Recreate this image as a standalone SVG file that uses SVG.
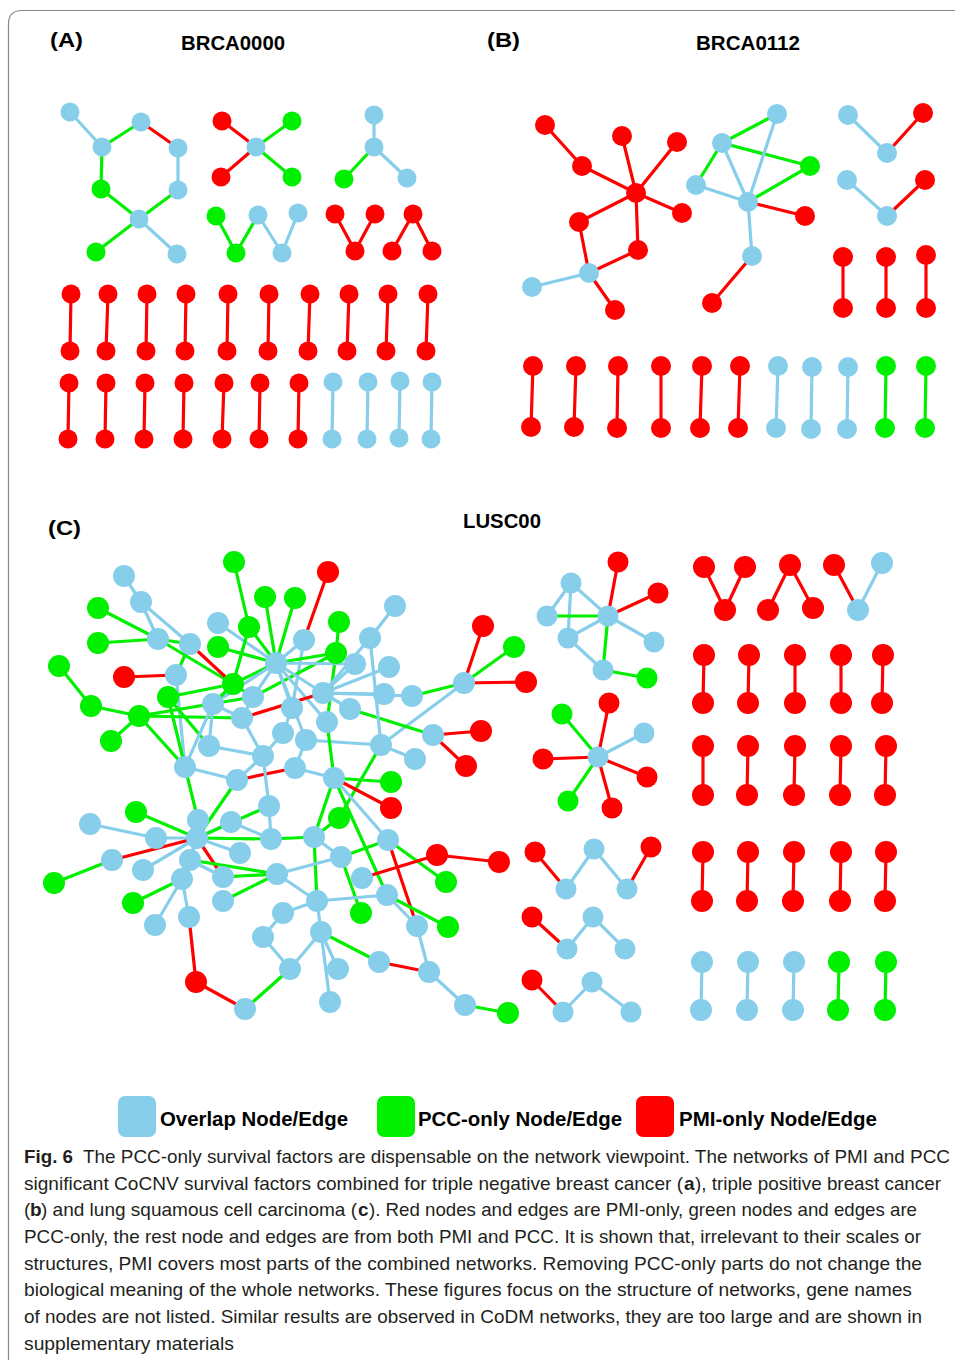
<svg xmlns="http://www.w3.org/2000/svg" width="955" height="1360" viewBox="0 0 955 1360">
<style>
.b{fill:#87CEEB}.g{fill:#00F000}.r{fill:#FF0000}
line{stroke-width:3.2;stroke-linecap:round}
.eb{stroke:#87CEEB}.eg{stroke:#00F000}.er{stroke:#FF0000}
.t{font-family:"Liberation Sans",Arial,sans-serif;font-weight:bold;fill:#000}
.cap{font-family:"Liberation Sans",Arial,sans-serif;font-size:19px;fill:#231f20}
.bo{font-weight:bold}
</style>
<rect width="955" height="1360" fill="#fff"/>
<path d="M8.5 1360 V24 Q8.5 10.5 22 10.5 H955" fill="none" stroke="#888" stroke-width="1.2"/>
<g id="labels">
<text class="t" x="50" y="47" font-size="20" textLength="33" lengthAdjust="spacingAndGlyphs">(A)</text>
<text class="t" x="181" y="50" font-size="20" textLength="104" lengthAdjust="spacingAndGlyphs">BRCA0000</text>
<text class="t" x="487" y="47" font-size="20" textLength="33" lengthAdjust="spacingAndGlyphs">(B)</text>
<text class="t" x="696" y="50" font-size="20" textLength="104" lengthAdjust="spacingAndGlyphs">BRCA0112</text>
<text class="t" x="48" y="535" font-size="20" textLength="33" lengthAdjust="spacingAndGlyphs">(C)</text>
<text class="t" x="463" y="528" font-size="20" textLength="78" lengthAdjust="spacingAndGlyphs">LUSC00</text>
</g>
<g id="connectors">
<!-- Panel A -->
<line class="eb" x1="70" y1="112" x2="102" y2="147"/><line class="eg" x1="102" y1="147" x2="141" y2="122"/><line class="er" x1="141" y1="122" x2="178" y2="148"/><line class="eb" x1="178" y1="148" x2="178" y2="190"/><line class="eg" x1="102" y1="147" x2="101" y2="189"/><line class="eg" x1="101" y1="189" x2="139" y2="219"/><line class="eg" x1="178" y1="190" x2="139" y2="219"/><line class="eg" x1="139" y1="219" x2="96" y2="252"/><line class="eb" x1="139" y1="219" x2="177" y2="254"/>
<line class="er" x1="222" y1="121" x2="256" y2="147"/><line class="eg" x1="292" y1="121" x2="256" y2="147"/><line class="er" x1="221" y1="177" x2="256" y2="147"/><line class="eg" x1="292" y1="177" x2="256" y2="147"/>
<line class="eb" x1="374" y1="115" x2="374" y2="147"/><line class="eg" x1="374" y1="147" x2="344" y2="179"/><line class="eb" x1="374" y1="147" x2="407" y2="178"/>
<line class="eg" x1="216" y1="216" x2="236" y2="253"/><line class="eg" x1="236" y1="253" x2="258" y2="215"/><line class="eb" x1="258" y1="215" x2="282" y2="253"/><line class="eb" x1="282" y1="253" x2="298" y2="213"/>
<line class="er" x1="335" y1="214" x2="355" y2="251"/><line class="er" x1="355" y1="251" x2="375" y2="214"/><line class="er" x1="392" y1="251" x2="413" y2="214"/><line class="er" x1="413" y1="214" x2="432" y2="251"/>
<line class="er" x1="71" y1="294" x2="70" y2="351"/><line class="er" x1="108" y1="294" x2="106" y2="351"/><line class="er" x1="147" y1="294" x2="146" y2="351"/><line class="er" x1="186" y1="294" x2="185" y2="351"/><line class="er" x1="228" y1="294" x2="227" y2="351"/><line class="er" x1="269" y1="294" x2="268" y2="351"/><line class="er" x1="310" y1="294" x2="308" y2="351"/><line class="er" x1="349" y1="294" x2="347" y2="351"/><line class="er" x1="388" y1="294" x2="386" y2="351"/><line class="er" x1="428" y1="294" x2="426" y2="351"/>
<line class="er" x1="69" y1="383" x2="68" y2="439"/><line class="er" x1="106" y1="383" x2="105" y2="439"/><line class="er" x1="145" y1="383" x2="144" y2="439"/><line class="er" x1="184" y1="383" x2="183" y2="439"/><line class="er" x1="224" y1="383" x2="222" y2="439"/><line class="er" x1="260" y1="383" x2="259" y2="439"/><line class="er" x1="299" y1="383" x2="298" y2="439"/><line class="eb" x1="333" y1="382" x2="332" y2="439"/><line class="eb" x1="368" y1="382" x2="367" y2="439"/><line class="eb" x1="400" y1="381" x2="399" y2="438"/><line class="eb" x1="432" y1="382" x2="431" y2="439"/>
<!-- Panel B -->
<line class="er" x1="545" y1="125" x2="582" y2="166"/><line class="er" x1="582" y1="166" x2="636" y2="193"/><line class="er" x1="622" y1="136" x2="636" y2="193"/><line class="er" x1="677" y1="142" x2="636" y2="193"/><line class="er" x1="682" y1="213" x2="636" y2="193"/><line class="er" x1="579" y1="222" x2="636" y2="193"/><line class="er" x1="638" y1="250" x2="636" y2="193"/><line class="er" x1="579" y1="222" x2="589" y2="273"/><line class="er" x1="638" y1="250" x2="589" y2="273"/><line class="er" x1="589" y1="273" x2="615" y2="310"/><line class="eb" x1="532" y1="287" x2="589" y2="273"/>
<line class="eg" x1="722" y1="143" x2="777" y2="114"/><line class="eg" x1="722" y1="143" x2="810" y2="166"/><line class="eg" x1="722" y1="143" x2="696" y2="185"/><line class="eb" x1="722" y1="143" x2="748" y2="202"/><line class="eb" x1="777" y1="114" x2="748" y2="202"/><line class="eb" x1="696" y1="185" x2="748" y2="202"/><line class="eg" x1="748" y1="202" x2="810" y2="166"/><line class="er" x1="748" y1="202" x2="805" y2="216"/><line class="eb" x1="748" y1="202" x2="752" y2="256"/><line class="er" x1="752" y1="256" x2="712" y2="303"/>
<line class="eb" x1="848" y1="115" x2="887" y2="153"/><line class="er" x1="887" y1="153" x2="923" y2="113"/><line class="eb" x1="847" y1="180" x2="887" y2="216"/><line class="er" x1="887" y1="216" x2="925" y2="180"/>
<line class="er" x1="843" y1="257" x2="843" y2="308"/><line class="er" x1="886" y1="257" x2="886" y2="308"/><line class="er" x1="926" y1="255" x2="926" y2="308"/>
<line class="er" x1="533" y1="366" x2="531" y2="427"/><line class="er" x1="576" y1="366" x2="574" y2="427"/><line class="er" x1="618" y1="366" x2="617" y2="428"/><line class="er" x1="661" y1="366" x2="661" y2="428"/><line class="er" x1="702" y1="366" x2="700" y2="428"/><line class="er" x1="740" y1="366" x2="738" y2="428"/><line class="eb" x1="778" y1="366" x2="776" y2="428"/><line class="eb" x1="812" y1="367" x2="811" y2="429"/><line class="eb" x1="848" y1="367" x2="847" y2="429"/><line class="eg" x1="886" y1="366" x2="885" y2="428"/><line class="eg" x1="926" y1="366" x2="925" y2="428"/>
<!-- Panel C big network -->
<g style="stroke-width:3.4">
<line class="eb" x1="124" y1="576" x2="141" y2="602"/><line class="eb" x1="141" y1="602" x2="158" y2="639"/><line class="eb" x1="141" y1="602" x2="190" y2="644"/><line class="eb" x1="218" y1="623" x2="276" y2="663"/>
<line class="eg" x1="98" y1="608" x2="158" y2="639"/><line class="eg" x1="158" y1="639" x2="233" y2="684"/><line class="eg" x1="98" y1="643" x2="158" y2="639"/><line class="eg" x1="158" y1="639" x2="190" y2="644"/>
<line class="eg" x1="234" y1="562" x2="249" y2="627"/><line class="eg" x1="249" y1="627" x2="276" y2="663"/><line class="eg" x1="249" y1="627" x2="233" y2="684"/><line class="eg" x1="265" y1="597" x2="276" y2="663"/><line class="eg" x1="295" y1="598" x2="276" y2="663"/><line class="eg" x1="218" y1="647" x2="276" y2="663"/><line class="eg" x1="233" y1="684" x2="276" y2="663"/>
<line class="er" x1="190" y1="644" x2="233" y2="684"/><line class="er" x1="328" y1="572" x2="304" y2="640"/><line class="eb" x1="304" y1="640" x2="276" y2="663"/><line class="eb" x1="304" y1="640" x2="292" y2="708"/>
<line class="eg" x1="339" y1="622" x2="336" y2="653"/><line class="eg" x1="336" y1="653" x2="276" y2="663"/><line class="eg" x1="336" y1="653" x2="327" y2="722"/><line class="eg" x1="336" y1="653" x2="253" y2="697"/>
<line class="eb" x1="395" y1="606" x2="370" y2="638"/><line class="eb" x1="370" y1="638" x2="323" y2="693"/><line class="eb" x1="355" y1="664" x2="323" y2="693"/><line class="eb" x1="389" y1="667" x2="323" y2="693"/><line class="eb" x1="384" y1="694" x2="323" y2="693"/><line class="eb" x1="276" y1="663" x2="323" y2="693"/><line class="eb" x1="276" y1="663" x2="355" y2="664"/><line class="eb" x1="276" y1="663" x2="253" y2="697"/><line class="eb" x1="276" y1="663" x2="292" y2="708"/><line class="eb" x1="276" y1="663" x2="327" y2="722"/><line class="eb" x1="276" y1="663" x2="306" y2="740"/><line class="eb" x1="276" y1="663" x2="213" y2="704"/>
<line class="er" x1="124" y1="677" x2="176" y2="675"/><line class="eg" x1="176" y1="675" x2="190" y2="644"/><line class="eb" x1="176" y1="675" x2="185" y2="767"/><line class="eg" x1="168" y1="697" x2="233" y2="684"/><line class="eg" x1="168" y1="697" x2="185" y2="767"/><line class="eg" x1="168" y1="697" x2="209" y2="746"/>
<line class="eg" x1="59" y1="666" x2="91" y2="706"/><line class="eg" x1="91" y1="706" x2="139" y2="716"/><line class="eg" x1="111" y1="741" x2="139" y2="716"/><line class="eg" x1="139" y1="716" x2="253" y2="697"/><line class="eg" x1="139" y1="716" x2="242" y2="718"/><line class="eg" x1="139" y1="716" x2="185" y2="767"/>
<line class="eg" x1="233" y1="684" x2="253" y2="697"/><line class="eg" x1="233" y1="684" x2="213" y2="704"/><line class="eb" x1="213" y1="704" x2="242" y2="718"/><line class="eb" x1="213" y1="704" x2="185" y2="767"/><line class="eb" x1="253" y1="697" x2="242" y2="718"/><line class="er" x1="242" y1="718" x2="323" y2="693"/>
<line class="er" x1="483" y1="626" x2="464" y2="683"/><line class="eg" x1="514" y1="647" x2="464" y2="683"/><line class="er" x1="526" y1="682" x2="464" y2="683"/><line class="eg" x1="464" y1="683" x2="412" y2="696"/><line class="eb" x1="464" y1="683" x2="381" y2="745"/><line class="eb" x1="412" y1="696" x2="323" y2="693"/>
<line class="eg" x1="350" y1="709" x2="433" y2="735"/><line class="eb" x1="350" y1="709" x2="323" y2="693"/><line class="er" x1="433" y1="735" x2="481" y2="731"/><line class="er" x1="433" y1="735" x2="466" y2="766"/><line class="eb" x1="381" y1="745" x2="415" y2="759"/><line class="eb" x1="381" y1="745" x2="370" y2="638"/><line class="eb" x1="306" y1="740" x2="381" y2="745"/><line class="eg" x1="381" y1="745" x2="339" y2="818"/>
<line class="eb" x1="283" y1="733" x2="263" y2="756"/><line class="eb" x1="283" y1="733" x2="292" y2="708"/><line class="eb" x1="306" y1="740" x2="295" y2="768"/><line class="eb" x1="242" y1="718" x2="263" y2="756"/><line class="eb" x1="209" y1="746" x2="263" y2="756"/><line class="eb" x1="209" y1="746" x2="213" y2="704"/><line class="eb" x1="185" y1="767" x2="237" y2="780"/><line class="er" x1="237" y1="780" x2="295" y2="768"/><line class="eb" x1="263" y1="756" x2="237" y2="780"/><line class="eb" x1="263" y1="756" x2="269" y2="806"/><line class="eg" x1="327" y1="722" x2="334" y2="778"/><line class="eb" x1="295" y1="768" x2="334" y2="778"/>
<line class="eg" x1="334" y1="778" x2="391" y2="782"/><line class="er" x1="334" y1="778" x2="391" y2="808"/><line class="eg" x1="334" y1="778" x2="314" y2="837"/><line class="eb" x1="334" y1="778" x2="388" y2="840"/><line class="eg" x1="334" y1="778" x2="387" y2="895"/>
<line class="eb" x1="90" y1="824" x2="156" y2="838"/><line class="eg" x1="136" y1="812" x2="197" y2="838"/><line class="eb" x1="156" y1="838" x2="197" y2="838"/><line class="er" x1="112" y1="860" x2="197" y2="838"/><line class="eg" x1="54" y1="883" x2="112" y2="860"/><line class="eb" x1="143" y1="870" x2="197" y2="838"/><line class="eg" x1="133" y1="903" x2="182" y2="879"/><line class="eb" x1="155" y1="925" x2="182" y2="879"/><line class="eb" x1="182" y1="879" x2="197" y2="838"/><line class="eb" x1="189" y1="917" x2="182" y2="879"/>
<line class="eg" x1="185" y1="767" x2="198" y2="820"/><line class="eb" x1="198" y1="820" x2="197" y2="838"/><line class="eb" x1="231" y1="822" x2="197" y2="838"/><line class="eb" x1="240" y1="853" x2="197" y2="838"/><line class="eb" x1="190" y1="860" x2="197" y2="838"/><line class="eg" x1="197" y1="838" x2="237" y2="780"/><line class="eg" x1="197" y1="838" x2="269" y2="806"/><line class="eg" x1="197" y1="838" x2="271" y2="839"/><line class="er" x1="197" y1="838" x2="223" y2="877"/><line class="eg" x1="190" y1="860" x2="277" y2="874"/><line class="eg" x1="223" y1="877" x2="277" y2="874"/><line class="eg" x1="223" y1="901" x2="277" y2="874"/><line class="eb" x1="190" y1="860" x2="223" y2="877"/><line class="eb" x1="231" y1="822" x2="271" y2="839"/>
<line class="eb" x1="269" y1="806" x2="271" y2="839"/><line class="eg" x1="271" y1="839" x2="314" y2="837"/><line class="eg" x1="314" y1="837" x2="339" y2="818"/><line class="eb" x1="314" y1="837" x2="341" y2="857"/><line class="eg" x1="314" y1="837" x2="317" y2="901"/><line class="eb" x1="277" y1="874" x2="341" y2="857"/><line class="eb" x1="277" y1="874" x2="317" y2="901"/><line class="eg" x1="341" y1="857" x2="388" y2="840"/><line class="eg" x1="341" y1="857" x2="361" y2="913"/>
<line class="er" x1="388" y1="840" x2="417" y2="926"/><line class="eg" x1="388" y1="840" x2="446" y2="882"/><line class="er" x1="437" y1="855" x2="499" y2="862"/><line class="er" x1="437" y1="855" x2="362" y2="878"/>
<line class="eb" x1="317" y1="901" x2="387" y2="895"/><line class="eb" x1="317" y1="901" x2="321" y2="932"/><line class="eg" x1="387" y1="895" x2="448" y2="927"/><line class="eb" x1="387" y1="895" x2="417" y2="926"/><line class="eb" x1="417" y1="926" x2="429" y2="972"/><line class="er" x1="379" y1="962" x2="429" y2="972"/><line class="eb" x1="429" y1="972" x2="465" y2="1005"/><line class="eg" x1="465" y1="1005" x2="508" y2="1013"/>
<line class="eb" x1="321" y1="932" x2="290" y2="969"/><line class="eb" x1="321" y1="932" x2="338" y2="969"/><line class="eb" x1="321" y1="932" x2="330" y2="1002"/><line class="eg" x1="321" y1="932" x2="379" y2="962"/><line class="eb" x1="283" y1="913" x2="317" y2="901"/><line class="eb" x1="263" y1="937" x2="290" y2="969"/><line class="eb" x1="263" y1="937" x2="283" y2="913"/>
<line class="er" x1="189" y1="917" x2="196" y2="982"/><line class="er" x1="196" y1="982" x2="245" y2="1009"/><line class="eg" x1="245" y1="1009" x2="290" y2="969"/>
</g>
<!-- Panel C middle components -->
<g style="stroke-width:3.2">
<line class="eb" x1="571" y1="583" x2="547" y2="616"/><line class="eb" x1="571" y1="583" x2="568" y2="638"/><line class="eb" x1="571" y1="583" x2="608" y2="616"/><line class="eg" x1="547" y1="616" x2="608" y2="616"/><line class="eb" x1="568" y1="638" x2="608" y2="616"/><line class="eb" x1="568" y1="638" x2="603" y2="670"/><line class="eg" x1="608" y1="616" x2="603" y2="670"/><line class="er" x1="608" y1="616" x2="618" y2="562"/><line class="er" x1="608" y1="616" x2="658" y2="593"/><line class="eb" x1="608" y1="616" x2="654" y2="642"/><line class="eg" x1="603" y1="670" x2="647" y2="678"/>
<line class="eg" x1="598" y1="757" x2="562" y2="714"/><line class="er" x1="598" y1="757" x2="609" y2="703"/><line class="eb" x1="598" y1="757" x2="644" y2="733"/><line class="er" x1="598" y1="757" x2="543" y2="759"/><line class="er" x1="598" y1="757" x2="647" y2="777"/><line class="eg" x1="598" y1="757" x2="568" y2="801"/><line class="er" x1="598" y1="757" x2="612" y2="808"/>
<line class="er" x1="535" y1="852" x2="566" y2="889"/><line class="eb" x1="566" y1="889" x2="594" y2="849"/><line class="eb" x1="594" y1="849" x2="627" y2="889"/><line class="er" x1="627" y1="889" x2="651" y2="847"/>
<line class="er" x1="532" y1="917" x2="567" y2="949"/><line class="eb" x1="567" y1="949" x2="593" y2="917"/><line class="eb" x1="593" y1="917" x2="625" y2="949"/>
<line class="er" x1="532" y1="980" x2="563" y2="1012"/><line class="eb" x1="563" y1="1012" x2="592" y2="982"/><line class="eb" x1="592" y1="982" x2="631" y2="1012"/>
<!-- Panel C right -->
<line class="er" x1="704" y1="567" x2="725" y2="610"/><line class="er" x1="725" y1="610" x2="745" y2="567"/><line class="er" x1="768" y1="610" x2="790" y2="565"/><line class="er" x1="790" y1="565" x2="813" y2="608"/><line class="er" x1="834" y1="565" x2="858" y2="610"/><line class="eb" x1="858" y1="610" x2="882" y2="563"/>
<line class="er" x1="704" y1="655" x2="703" y2="703"/><line class="er" x1="749" y1="655" x2="748" y2="703"/><line class="er" x1="795" y1="655" x2="795" y2="703"/><line class="er" x1="841" y1="655" x2="841" y2="703"/><line class="er" x1="883" y1="655" x2="882" y2="703"/>
<line class="er" x1="703" y1="746" x2="703" y2="795"/><line class="er" x1="748" y1="746" x2="747" y2="795"/><line class="er" x1="795" y1="746" x2="794" y2="795"/><line class="er" x1="841" y1="746" x2="840" y2="795"/><line class="er" x1="886" y1="746" x2="885" y2="795"/>
<line class="er" x1="703" y1="852" x2="702" y2="901"/><line class="er" x1="748" y1="852" x2="747" y2="901"/><line class="er" x1="794" y1="852" x2="793" y2="901"/><line class="er" x1="841" y1="852" x2="840" y2="901"/><line class="er" x1="886" y1="852" x2="885" y2="901"/>
<line class="eb" x1="702" y1="962" x2="701" y2="1010"/><line class="eb" x1="748" y1="962" x2="747" y2="1010"/><line class="eb" x1="794" y1="962" x2="793" y2="1010"/><line class="eg" x1="839" y1="962" x2="838" y2="1010"/><line class="eg" x1="886" y1="962" x2="885" y2="1010"/>
</g>
</g>
<g id="nodesA">
<g id="a1"><circle class="b" cx="70" cy="112" r="9.5"/></g><g id="a2"><circle class="b" cx="102" cy="147" r="9.5"/></g><g id="a3"><circle class="b" cx="141" cy="122" r="9.5"/></g><g id="a4"><circle class="b" cx="178" cy="148" r="9.5"/></g><g id="a5"><circle class="b" cx="178" cy="190" r="9.5"/></g><g id="a6"><circle class="g" cx="101" cy="189" r="9.5"/></g><g id="a7"><circle class="b" cx="139" cy="219" r="9.5"/></g><g id="a8"><circle class="g" cx="96" cy="252" r="9.5"/></g><g id="a9"><circle class="b" cx="177" cy="254" r="9.5"/></g>
<g id="a10"><circle class="b" cx="256" cy="147" r="9.5"/></g><g id="a11"><circle class="r" cx="222" cy="121" r="9.5"/></g><g id="a12"><circle class="g" cx="292" cy="121" r="9.5"/></g><g id="a13"><circle class="r" cx="221" cy="177" r="9.5"/></g><g id="a14"><circle class="g" cx="292" cy="177" r="9.5"/></g>
<g id="a15"><circle class="b" cx="374" cy="115" r="9.5"/></g><g id="a16"><circle class="b" cx="374" cy="147" r="9.5"/></g><g id="a17"><circle class="g" cx="344" cy="179" r="9.5"/></g><g id="a18"><circle class="b" cx="407" cy="178" r="9.5"/></g>
<g id="a19"><circle class="g" cx="216" cy="216" r="9.5"/></g><g id="a20"><circle class="g" cx="236" cy="253" r="9.5"/></g><g id="a21"><circle class="b" cx="258" cy="215" r="9.5"/></g><g id="a22"><circle class="b" cx="282" cy="253" r="9.5"/></g><g id="a23"><circle class="b" cx="298" cy="213" r="9.5"/></g>
<g id="a24"><circle class="r" cx="335" cy="214" r="9.5"/></g><g id="a25"><circle class="r" cx="355" cy="251" r="9.5"/></g><g id="a26"><circle class="r" cx="375" cy="214" r="9.5"/></g><g id="a27"><circle class="r" cx="413" cy="214" r="9.5"/></g><g id="a28"><circle class="r" cx="392" cy="251" r="9.5"/></g><g id="a29"><circle class="r" cx="432" cy="251" r="9.5"/></g>
<g id="a30"><circle class="r" cx="71" cy="294" r="9.5"/></g><g id="a31"><circle class="r" cx="70" cy="351" r="9.5"/></g><g id="a32"><circle class="r" cx="108" cy="294" r="9.5"/></g><g id="a33"><circle class="r" cx="106" cy="351" r="9.5"/></g><g id="a34"><circle class="r" cx="147" cy="294" r="9.5"/></g><g id="a35"><circle class="r" cx="146" cy="351" r="9.5"/></g><g id="a36"><circle class="r" cx="186" cy="294" r="9.5"/></g><g id="a37"><circle class="r" cx="185" cy="351" r="9.5"/></g><g id="a38"><circle class="r" cx="228" cy="294" r="9.5"/></g><g id="a39"><circle class="r" cx="227" cy="351" r="9.5"/></g><g id="a40"><circle class="r" cx="269" cy="294" r="9.5"/></g><g id="a41"><circle class="r" cx="268" cy="351" r="9.5"/></g><g id="a42"><circle class="r" cx="310" cy="294" r="9.5"/></g><g id="a43"><circle class="r" cx="308" cy="351" r="9.5"/></g><g id="a44"><circle class="r" cx="349" cy="294" r="9.5"/></g><g id="a45"><circle class="r" cx="347" cy="351" r="9.5"/></g><g id="a46"><circle class="r" cx="388" cy="294" r="9.5"/></g><g id="a47"><circle class="r" cx="386" cy="351" r="9.5"/></g><g id="a48"><circle class="r" cx="428" cy="294" r="9.5"/></g><g id="a49"><circle class="r" cx="426" cy="351" r="9.5"/></g>
<g id="a50"><circle class="r" cx="69" cy="383" r="9.5"/></g><g id="a51"><circle class="r" cx="68" cy="439" r="9.5"/></g><g id="a52"><circle class="r" cx="106" cy="383" r="9.5"/></g><g id="a53"><circle class="r" cx="105" cy="439" r="9.5"/></g><g id="a54"><circle class="r" cx="145" cy="383" r="9.5"/></g><g id="a55"><circle class="r" cx="144" cy="439" r="9.5"/></g><g id="a56"><circle class="r" cx="184" cy="383" r="9.5"/></g><g id="a57"><circle class="r" cx="183" cy="439" r="9.5"/></g><g id="a58"><circle class="r" cx="224" cy="383" r="9.5"/></g><g id="a59"><circle class="r" cx="222" cy="439" r="9.5"/></g><g id="a60"><circle class="r" cx="260" cy="383" r="9.5"/></g><g id="a61"><circle class="r" cx="259" cy="439" r="9.5"/></g><g id="a62"><circle class="r" cx="299" cy="383" r="9.5"/></g><g id="a63"><circle class="r" cx="298" cy="439" r="9.5"/></g>
<g id="a64"><circle class="b" cx="333" cy="382" r="9.5"/></g><g id="a65"><circle class="b" cx="332" cy="439" r="9.5"/></g><g id="a66"><circle class="b" cx="368" cy="382" r="9.5"/></g><g id="a67"><circle class="b" cx="367" cy="439" r="9.5"/></g><g id="a68"><circle class="b" cx="400" cy="381" r="9.5"/></g><g id="a69"><circle class="b" cx="399" cy="438" r="9.5"/></g><g id="a70"><circle class="b" cx="432" cy="382" r="9.5"/></g><g id="a71"><circle class="b" cx="431" cy="439" r="9.5"/></g>
</g>
<g id="nodesB">
<g id="b1"><circle class="r" cx="545" cy="125" r="10"/></g><g id="b2"><circle class="r" cx="582" cy="166" r="10"/></g><g id="b3"><circle class="r" cx="622" cy="136" r="10"/></g><g id="b4"><circle class="r" cx="677" cy="142" r="10"/></g><g id="b5"><circle class="r" cx="636" cy="193" r="10"/></g><g id="b6"><circle class="r" cx="682" cy="213" r="10"/></g><g id="b7"><circle class="r" cx="579" cy="222" r="10"/></g><g id="b8"><circle class="r" cx="638" cy="250" r="10"/></g><g id="b9"><circle class="b" cx="589" cy="273" r="10"/></g><g id="b10"><circle class="b" cx="532" cy="287" r="10"/></g><g id="b11"><circle class="r" cx="615" cy="310" r="10"/></g>
<g id="b12"><circle class="b" cx="777" cy="114" r="10"/></g><g id="b13"><circle class="b" cx="722" cy="143" r="10"/></g><g id="b14"><circle class="g" cx="810" cy="166" r="10"/></g><g id="b15"><circle class="b" cx="696" cy="185" r="10"/></g><g id="b16"><circle class="b" cx="748" cy="202" r="10"/></g><g id="b17"><circle class="r" cx="805" cy="216" r="10"/></g><g id="b18"><circle class="b" cx="752" cy="256" r="10"/></g><g id="b19"><circle class="r" cx="712" cy="303" r="10"/></g>
<g id="b20"><circle class="b" cx="848" cy="115" r="10"/></g><g id="b21"><circle class="b" cx="887" cy="153" r="10"/></g><g id="b22"><circle class="r" cx="923" cy="113" r="10"/></g><g id="b23"><circle class="b" cx="847" cy="180" r="10"/></g><g id="b24"><circle class="b" cx="887" cy="216" r="10"/></g><g id="b25"><circle class="r" cx="925" cy="180" r="10"/></g>
<g id="b26"><circle class="r" cx="843" cy="257" r="10"/></g><g id="b27"><circle class="r" cx="843" cy="308" r="10"/></g><g id="b28"><circle class="r" cx="886" cy="257" r="10"/></g><g id="b29"><circle class="r" cx="886" cy="308" r="10"/></g><g id="b30"><circle class="r" cx="926" cy="255" r="10"/></g><g id="b31"><circle class="r" cx="926" cy="308" r="10"/></g>
<g id="b32"><circle class="r" cx="533" cy="366" r="10"/></g><g id="b33"><circle class="r" cx="531" cy="427" r="10"/></g><g id="b34"><circle class="r" cx="576" cy="366" r="10"/></g><g id="b35"><circle class="r" cx="574" cy="427" r="10"/></g><g id="b36"><circle class="r" cx="618" cy="366" r="10"/></g><g id="b37"><circle class="r" cx="617" cy="428" r="10"/></g><g id="b38"><circle class="r" cx="661" cy="366" r="10"/></g><g id="b39"><circle class="r" cx="661" cy="428" r="10"/></g><g id="b40"><circle class="r" cx="702" cy="366" r="10"/></g><g id="b41"><circle class="r" cx="700" cy="428" r="10"/></g><g id="b42"><circle class="r" cx="740" cy="366" r="10"/></g><g id="b43"><circle class="r" cx="738" cy="428" r="10"/></g>
<g id="b44"><circle class="b" cx="778" cy="366" r="10"/></g><g id="b45"><circle class="b" cx="776" cy="428" r="10"/></g><g id="b46"><circle class="b" cx="812" cy="367" r="10"/></g><g id="b47"><circle class="b" cx="811" cy="429" r="10"/></g><g id="b48"><circle class="b" cx="848" cy="367" r="10"/></g><g id="b49"><circle class="b" cx="847" cy="429" r="10"/></g><g id="b50"><circle class="g" cx="886" cy="366" r="10"/></g><g id="b51"><circle class="g" cx="885" cy="428" r="10"/></g><g id="b52"><circle class="g" cx="926" cy="366" r="10"/></g><g id="b53"><circle class="g" cx="925" cy="428" r="10"/></g>
</g>
<g id="nodesC">
<g id="c1"><circle class="b" cx="124" cy="576" r="11"/></g><g id="c2"><circle class="b" cx="141" cy="602" r="11"/></g><g id="c3"><circle class="g" cx="98" cy="608" r="11"/></g><g id="c4"><circle class="g" cx="234" cy="562" r="11"/></g><g id="c5"><circle class="g" cx="265" cy="597" r="11"/></g><g id="c6"><circle class="g" cx="295" cy="598" r="11"/></g><g id="c7"><circle class="r" cx="328" cy="572" r="11"/></g><g id="c8"><circle class="b" cx="395" cy="606" r="11"/></g><g id="c9"><circle class="b" cx="218" cy="623" r="11"/></g><g id="c10"><circle class="g" cx="249" cy="627" r="11"/></g>
<g id="c11"><circle class="g" cx="339" cy="622" r="11"/></g><g id="c12"><circle class="g" cx="98" cy="643" r="11"/></g><g id="c13"><circle class="b" cx="158" cy="639" r="11"/></g><g id="c14"><circle class="b" cx="190" cy="644" r="11"/></g><g id="c15"><circle class="g" cx="218" cy="647" r="11"/></g><g id="c16"><circle class="b" cx="304" cy="640" r="11"/></g><g id="c17"><circle class="b" cx="370" cy="638" r="11"/></g><g id="c18"><circle class="g" cx="336" cy="653" r="11"/></g><g id="c19"><circle class="b" cx="276" cy="663" r="11"/></g><g id="c20"><circle class="b" cx="355" cy="664" r="11"/></g>
<g id="c21"><circle class="b" cx="389" cy="667" r="11"/></g><g id="c22"><circle class="g" cx="59" cy="666" r="11"/></g><g id="c23"><circle class="r" cx="124" cy="677" r="11"/></g><g id="c24"><circle class="b" cx="176" cy="675" r="11"/></g><g id="c25"><circle class="g" cx="233" cy="684" r="11"/></g><g id="c26"><circle class="r" cx="483" cy="626" r="11"/></g><g id="c27"><circle class="g" cx="514" cy="647" r="11"/></g><g id="c28"><circle class="b" cx="464" cy="683" r="11"/></g><g id="c29"><circle class="r" cx="526" cy="682" r="11"/></g><g id="c30"><circle class="b" cx="253" cy="697" r="11"/></g>
<g id="c31"><circle class="g" cx="168" cy="697" r="11"/></g><g id="c32"><circle class="g" cx="91" cy="706" r="11"/></g><g id="c33"><circle class="b" cx="213" cy="704" r="11"/></g><g id="c34"><circle class="b" cx="323" cy="693" r="11"/></g><g id="c35"><circle class="b" cx="412" cy="696" r="11"/></g><g id="c36"><circle class="b" cx="292" cy="708" r="11"/></g><g id="c37"><circle class="b" cx="350" cy="709" r="11"/></g><g id="c38"><circle class="g" cx="139" cy="716" r="11"/></g><g id="c39"><circle class="b" cx="242" cy="718" r="11"/></g><g id="c40"><circle class="b" cx="327" cy="722" r="11"/></g>
<g id="c41"><circle class="b" cx="283" cy="733" r="11"/></g><g id="c42"><circle class="b" cx="306" cy="740" r="11"/></g><g id="c43"><circle class="b" cx="381" cy="745" r="11"/></g><g id="c44"><circle class="b" cx="433" cy="735" r="11"/></g><g id="c45"><circle class="r" cx="481" cy="731" r="11"/></g><g id="c46"><circle class="r" cx="466" cy="766" r="11"/></g><g id="c47"><circle class="b" cx="415" cy="759" r="11"/></g><g id="c48"><circle class="g" cx="111" cy="741" r="11"/></g><g id="c49"><circle class="b" cx="209" cy="746" r="11"/></g><g id="c50"><circle class="b" cx="263" cy="756" r="11"/></g>
<g id="c51"><circle class="b" cx="185" cy="767" r="11"/></g><g id="c52"><circle class="b" cx="295" cy="768" r="11"/></g><g id="c53"><circle class="b" cx="237" cy="780" r="11"/></g><g id="c54"><circle class="b" cx="334" cy="778" r="11"/></g><g id="c55"><circle class="g" cx="391" cy="782" r="11"/></g><g id="c56"><circle class="r" cx="391" cy="808" r="11"/></g><g id="c57"><circle class="b" cx="269" cy="806" r="11"/></g><g id="c58"><circle class="g" cx="339" cy="818" r="11"/></g><g id="c59"><circle class="b" cx="90" cy="824" r="11"/></g><g id="c60"><circle class="g" cx="136" cy="812" r="11"/></g>
<g id="c61"><circle class="b" cx="198" cy="820" r="11"/></g><g id="c62"><circle class="b" cx="231" cy="822" r="11"/></g><g id="c63"><circle class="b" cx="156" cy="838" r="11"/></g><g id="c64"><circle class="b" cx="197" cy="838" r="11"/></g><g id="c65"><circle class="b" cx="271" cy="839" r="11"/></g><g id="c66"><circle class="b" cx="314" cy="837" r="11"/></g><g id="c67"><circle class="b" cx="388" cy="840" r="11"/></g><g id="c68"><circle class="r" cx="437" cy="855" r="11"/></g><g id="c69"><circle class="r" cx="499" cy="862" r="11"/></g><g id="c70"><circle class="b" cx="240" cy="853" r="11"/></g>
<g id="c71"><circle class="b" cx="190" cy="860" r="11"/></g><g id="c72"><circle class="b" cx="341" cy="857" r="11"/></g><g id="c73"><circle class="b" cx="112" cy="860" r="11"/></g><g id="c74"><circle class="b" cx="143" cy="870" r="11"/></g><g id="c75"><circle class="g" cx="54" cy="883" r="11"/></g><g id="c76"><circle class="b" cx="182" cy="879" r="11"/></g><g id="c77"><circle class="b" cx="223" cy="877" r="11"/></g><g id="c78"><circle class="b" cx="277" cy="874" r="11"/></g><g id="c79"><circle class="b" cx="362" cy="878" r="11"/></g><g id="c80"><circle class="g" cx="446" cy="882" r="11"/></g>
<g id="c81"><circle class="g" cx="133" cy="903" r="11"/></g><g id="c82"><circle class="b" cx="223" cy="901" r="11"/></g><g id="c83"><circle class="b" cx="317" cy="901" r="11"/></g><g id="c84"><circle class="b" cx="387" cy="895" r="11"/></g><g id="c85"><circle class="g" cx="361" cy="913" r="11"/></g><g id="c86"><circle class="b" cx="283" cy="913" r="11"/></g><g id="c87"><circle class="b" cx="155" cy="925" r="11"/></g><g id="c88"><circle class="b" cx="189" cy="917" r="11"/></g><g id="c89"><circle class="b" cx="263" cy="937" r="11"/></g><g id="c90"><circle class="b" cx="417" cy="926" r="11"/></g>
<g id="c91"><circle class="g" cx="448" cy="927" r="11"/></g><g id="c92"><circle class="b" cx="321" cy="932" r="11"/></g><g id="c93"><circle class="b" cx="290" cy="969" r="11"/></g><g id="c94"><circle class="b" cx="338" cy="969" r="11"/></g><g id="c95"><circle class="b" cx="379" cy="962" r="11"/></g><g id="c96"><circle class="b" cx="429" cy="972" r="11"/></g><g id="c97"><circle class="b" cx="330" cy="1002" r="11"/></g><g id="c98"><circle class="b" cx="465" cy="1005" r="11"/></g><g id="c99"><circle class="g" cx="508" cy="1013" r="11"/></g><g id="c100"><circle class="r" cx="196" cy="982" r="11"/></g>
<g id="c101"><circle class="b" cx="245" cy="1009" r="11"/></g><g id="c102"><circle class="b" cx="384" cy="694" r="11"/></g>
<g id="m1"><circle class="b" cx="571" cy="583" r="10.5"/></g><g id="m2"><circle class="b" cx="547" cy="616" r="10.5"/></g><g id="m3"><circle class="b" cx="568" cy="638" r="10.5"/></g><g id="m4"><circle class="b" cx="608" cy="616" r="10.5"/></g><g id="m5"><circle class="r" cx="618" cy="562" r="10.5"/></g><g id="m6"><circle class="r" cx="658" cy="593" r="10.5"/></g><g id="m7"><circle class="b" cx="654" cy="642" r="10.5"/></g><g id="m8"><circle class="b" cx="603" cy="670" r="10.5"/></g><g id="m9"><circle class="g" cx="647" cy="678" r="10.5"/></g>
<g id="m10"><circle class="b" cx="598" cy="757" r="10.5"/></g><g id="m11"><circle class="g" cx="562" cy="714" r="10.5"/></g><g id="m12"><circle class="r" cx="609" cy="703" r="10.5"/></g><g id="m13"><circle class="b" cx="644" cy="733" r="10.5"/></g><g id="m14"><circle class="r" cx="543" cy="759" r="10.5"/></g><g id="m15"><circle class="r" cx="647" cy="777" r="10.5"/></g><g id="m16"><circle class="g" cx="568" cy="801" r="10.5"/></g><g id="m17"><circle class="r" cx="612" cy="808" r="10.5"/></g>
<g id="m18"><circle class="r" cx="535" cy="852" r="10.5"/></g><g id="m19"><circle class="b" cx="566" cy="889" r="10.5"/></g><g id="m20"><circle class="b" cx="594" cy="849" r="10.5"/></g><g id="m21"><circle class="b" cx="627" cy="889" r="10.5"/></g><g id="m22"><circle class="r" cx="651" cy="847" r="10.5"/></g>
<g id="m23"><circle class="r" cx="532" cy="917" r="10.5"/></g><g id="m24"><circle class="b" cx="567" cy="949" r="10.5"/></g><g id="m25"><circle class="b" cx="593" cy="917" r="10.5"/></g><g id="m26"><circle class="b" cx="625" cy="949" r="10.5"/></g>
<g id="m27"><circle class="r" cx="532" cy="980" r="10.5"/></g><g id="m28"><circle class="b" cx="563" cy="1012" r="10.5"/></g><g id="m29"><circle class="b" cx="592" cy="982" r="10.5"/></g><g id="m30"><circle class="b" cx="631" cy="1012" r="10.5"/></g>
<g id="p1"><circle class="r" cx="704" cy="567" r="11"/></g><g id="p2"><circle class="r" cx="725" cy="610" r="11"/></g><g id="p3"><circle class="r" cx="745" cy="567" r="11"/></g><g id="p4"><circle class="r" cx="768" cy="610" r="11"/></g><g id="p5"><circle class="r" cx="790" cy="565" r="11"/></g><g id="p6"><circle class="r" cx="813" cy="608" r="11"/></g><g id="p7"><circle class="r" cx="834" cy="565" r="11"/></g><g id="p8"><circle class="b" cx="858" cy="610" r="11"/></g><g id="p9"><circle class="b" cx="882" cy="563" r="11"/></g>
<g id="p10"><circle class="r" cx="704" cy="655" r="11"/></g><g id="p11"><circle class="r" cx="703" cy="703" r="11"/></g><g id="p12"><circle class="r" cx="749" cy="655" r="11"/></g><g id="p13"><circle class="r" cx="748" cy="703" r="11"/></g><g id="p14"><circle class="r" cx="795" cy="655" r="11"/></g><g id="p15"><circle class="r" cx="795" cy="703" r="11"/></g><g id="p16"><circle class="r" cx="841" cy="655" r="11"/></g><g id="p17"><circle class="r" cx="841" cy="703" r="11"/></g><g id="p18"><circle class="r" cx="883" cy="655" r="11"/></g><g id="p19"><circle class="r" cx="882" cy="703" r="11"/></g>
<g id="p20"><circle class="r" cx="703" cy="746" r="11"/></g><g id="p21"><circle class="r" cx="703" cy="795" r="11"/></g><g id="p22"><circle class="r" cx="748" cy="746" r="11"/></g><g id="p23"><circle class="r" cx="747" cy="795" r="11"/></g><g id="p24"><circle class="r" cx="795" cy="746" r="11"/></g><g id="p25"><circle class="r" cx="794" cy="795" r="11"/></g><g id="p26"><circle class="r" cx="841" cy="746" r="11"/></g><g id="p27"><circle class="r" cx="840" cy="795" r="11"/></g><g id="p28"><circle class="r" cx="886" cy="746" r="11"/></g><g id="p29"><circle class="r" cx="885" cy="795" r="11"/></g>
<g id="p30"><circle class="r" cx="703" cy="852" r="11"/></g><g id="p31"><circle class="r" cx="702" cy="901" r="11"/></g><g id="p32"><circle class="r" cx="748" cy="852" r="11"/></g><g id="p33"><circle class="r" cx="747" cy="901" r="11"/></g><g id="p34"><circle class="r" cx="794" cy="852" r="11"/></g><g id="p35"><circle class="r" cx="793" cy="901" r="11"/></g><g id="p36"><circle class="r" cx="841" cy="852" r="11"/></g><g id="p37"><circle class="r" cx="840" cy="901" r="11"/></g><g id="p38"><circle class="r" cx="886" cy="852" r="11"/></g><g id="p39"><circle class="r" cx="885" cy="901" r="11"/></g>
<g id="p40"><circle class="b" cx="702" cy="962" r="11"/></g><g id="p41"><circle class="b" cx="701" cy="1010" r="11"/></g><g id="p42"><circle class="b" cx="748" cy="962" r="11"/></g><g id="p43"><circle class="b" cx="747" cy="1010" r="11"/></g><g id="p44"><circle class="b" cx="794" cy="962" r="11"/></g><g id="p45"><circle class="b" cx="793" cy="1010" r="11"/></g><g id="p46"><circle class="g" cx="839" cy="962" r="11"/></g><g id="p47"><circle class="g" cx="838" cy="1010" r="11"/></g><g id="p48"><circle class="g" cx="886" cy="962" r="11"/></g><g id="p49"><circle class="g" cx="885" cy="1010" r="11"/></g>
</g>
<g id="legend">
<rect class="b" x="118" y="1096" width="38" height="41" rx="7"/>
<text class="t" x="160" y="1126" font-size="21" textLength="188" lengthAdjust="spacingAndGlyphs">Overlap Node/Edge</text>
<rect class="g" x="377" y="1096" width="38" height="41" rx="7"/>
<text class="t" x="418" y="1126" font-size="21" textLength="204" lengthAdjust="spacingAndGlyphs">PCC-only Node/Edge</text>
<rect class="r" x="636" y="1096" width="38" height="41" rx="7"/>
<text class="t" x="679" y="1126" font-size="21" textLength="198" lengthAdjust="spacingAndGlyphs">PMI-only Node/Edge</text>
</g>
<g id="caption" class="cap">
<text x="24" y="1163" class="bo" textLength="49" lengthAdjust="spacingAndGlyphs">Fig. 6</text>
<text x="83" y="1163" textLength="867" lengthAdjust="spacingAndGlyphs">The PCC-only survival factors are dispensable on the network viewpoint. The networks of PMI and PCC</text>
<text x="24" y="1190" textLength="659" lengthAdjust="spacingAndGlyphs">significant CoCNV survival factors combined for triple negative breast cancer (</text>
<text x="684" y="1190" class="bo">a</text>
<text x="695" y="1190" textLength="246" lengthAdjust="spacingAndGlyphs">), triple positive breast cancer</text>
<text x="24" y="1216">(</text>
<text x="30" y="1216" class="bo">b</text>
<text x="41" y="1216" textLength="316" lengthAdjust="spacingAndGlyphs">) and lung squamous cell carcinoma (</text>
<text x="358" y="1216" class="bo">c</text>
<text x="369" y="1216" textLength="548" lengthAdjust="spacingAndGlyphs">). Red nodes and edges are PMI-only, green nodes and edges are</text>
<text x="24" y="1243" textLength="897" lengthAdjust="spacingAndGlyphs">PCC-only, the rest node and edges are from both PMI and PCC. It is shown that, irrelevant to their scales or</text>
<text x="24" y="1270" textLength="898" lengthAdjust="spacingAndGlyphs">structures, PMI covers most parts of the combined networks. Removing PCC-only parts do not change the</text>
<text x="24" y="1296" textLength="888" lengthAdjust="spacingAndGlyphs">biological meaning of the whole networks. These figures focus on the structure of networks, gene names</text>
<text x="24" y="1323" textLength="898" lengthAdjust="spacingAndGlyphs">of nodes are not listed. Similar results are observed in CoDM networks, they are too large and are shown in</text>
<text x="24" y="1350" textLength="210" lengthAdjust="spacingAndGlyphs">supplementary materials</text>
</g>
</svg>
